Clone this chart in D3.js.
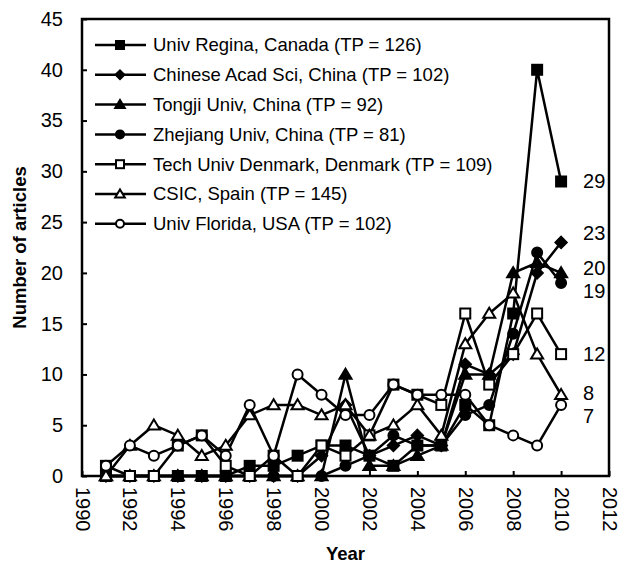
<!DOCTYPE html>
<html><head><meta charset="utf-8">
<script src="https://cdn.jsdelivr.net/npm/d3@7"></script>
<style>
html,body{margin:0;padding:0;background:#fff;}
text{font-family:Arial,"Liberation Sans",sans-serif;fill:#000;}
</style></head>
<body>
<svg id="chart" width="624" height="565"></svg>
<script>
const years = [1991,1992,1993,1994,1995,1996,1997,1998,1999,2000,2001,2002,2003,2004,2005,2006,2007,2008,2009,2010];
const seriesNames = [
  "Univ Regina, Canada (TP = 126)",
  "Chinese Acad Sci, China (TP = 102)",
  "Tongji Univ, China (TP = 92)",
  "Zhejiang Univ, China (TP = 81)",
  "Tech Univ Denmark, Denmark (TP = 109)",
  "CSIC, Spain (TP = 145)",
  "Univ Florida, USA (TP = 102)"
];
const markerTypes = ["squareFilled","diamondFilled","triangleFilled","circleFilled","squareOpen","triangleOpen","circleOpen"];
const regina   = [0,0,0,0,0,0,1,1,2,3,3,2,1,3,3,7,5,16,40,29];
const cas      = [0,0,0,0,0,0,0,0,0,2,7,2,3,4,3,11,10,12,20,23];
const tongji   = [0,0,0,0,0,0,0,0,0,0,10,1,1,2,3,10,10,20,21,20];
const zhejiang = [0,0,0,0,0,0,0,0,0,0,1,2,4,3,3,6,7,14,22,19];
const dtu      = [1,0,0,3,4,1,0,2,0,3,2,4,9,8,7,16,9,12,16,12];
const csic     = [0,3,5,4,2,3,6,7,7,6,7,4,5,7,4,13,16,18,12,8];
const florida  = [1,3,2,3,4,2,7,2,10,8,6,6,9,8,8,8,5,4,3,7];
const seriesValues = [regina, cas, tongji, zhejiang, dtu, csic, florida];
const endLabels = ["29","23","20","19","12","8","7"];
const endLabelShift = [0,-9,-5,8,0,-2,11];
const xTicks = [1990,1992,1994,1996,1998,2000,2002,2004,2006,2008,2010,2012];
const yTicks = [0,5,10,15,20,25,30,35,40,45];

const svg = d3.select("#chart");
const L = 82, R = 609, T = 19, B = 476;
const x = d3.scaleLinear().domain([1990,2012]).range([L,R]);
const y = d3.scaleLinear().domain([0,45]).range([B,T]);
const FS = 18.5, TFS = 20;

function drawMarker(g, type, cx, cy, s) {
  const filled = type.endsWith("Filled");
  const fill = filled ? "#000" : "#fff";
  const sw = 2;
  if (type.startsWith("square")) {
    g.append("rect").attr("x", cx - s/2).attr("y", cy - s/2).attr("width", s).attr("height", s)
      .attr("fill", fill).attr("stroke", "#000").attr("stroke-width", sw);
  } else if (type.startsWith("diamond")) {
    const r = s*0.62;
    g.append("path").attr("d", `M${cx},${cy-r}L${cx+r},${cy}L${cx},${cy+r}L${cx-r},${cy}Z`)
      .attr("fill", fill).attr("stroke", "#000").attr("stroke-width", 1.2);
  } else if (type.startsWith("triangle")) {
    const h = s*0.95, w = s*0.6;
    g.append("path").attr("d", `M${cx},${cy-h*0.6}L${cx+w},${cy+h*0.45}L${cx-w},${cy+h*0.45}Z`)
      .attr("fill", fill).attr("stroke", "#000").attr("stroke-width", sw).attr("stroke-linejoin","miter");
  } else {
    g.append("circle").attr("cx", cx).attr("cy", cy).attr("r", s/2)
      .attr("fill", fill).attr("stroke", "#000").attr("stroke-width", sw);
  }
}

// axes frame
svg.append("rect").attr("x", L).attr("y", T).attr("width", R-L).attr("height", B-T)
  .attr("fill", "none").attr("stroke", "#000").attr("stroke-width", 2.5);

const yAxis = d3.axisLeft(y).tickValues(yTicks).tickSize(-5).tickPadding(19).tickFormat(d3.format("d"));
const gy = svg.append("g").attr("transform", `translate(${L},0)`).call(yAxis);
gy.select(".domain").remove();
gy.selectAll("line").attr("stroke", "#000").attr("stroke-width", 2);
gy.selectAll("text").attr("font-size", TFS).attr("font-family", "Arial, 'Liberation Sans', sans-serif");

const xAxis = d3.axisBottom(x).tickValues(xTicks).tickSize(-5).tickFormat(d3.format("d"));
const gx = svg.append("g").attr("transform", `translate(0,${B})`).call(xAxis);
gx.select(".domain").remove();
gx.selectAll("line").attr("stroke", "#000").attr("stroke-width", 2);
gx.selectAll("text").attr("font-size", TFS).attr("font-family", "Arial, 'Liberation Sans', sans-serif")
  .attr("text-anchor", "start").attr("transform", "rotate(90)")
  .attr("x", 11).attr("y", 0).attr("dy", "0.35em");

// axis titles
svg.append("text").attr("x", (L+R)/2).attr("y", 560).attr("text-anchor", "middle")
  .attr("font-size", FS).attr("font-weight", "bold").text("Year");
svg.append("text").attr("transform", `translate(26,${(T+B)/2}) rotate(-90)`).attr("text-anchor", "middle")
  .attr("font-size", FS).attr("font-weight", "bold").text("Number of articles");

// series
const line = d3.line().x((d,i) => x(years[i])).y(d => y(d));
seriesValues.forEach((vals, si) => {
  svg.append("path").datum(vals).attr("d", line).attr("fill", "none")
    .attr("stroke", "#000").attr("stroke-width", 2.5).attr("stroke-linejoin", "round");
});
seriesValues.forEach((vals, si) => {
  const g = svg.append("g");
  vals.forEach((v, i) => drawMarker(g, markerTypes[si], x(years[i]), y(v), 10));
});

// end labels
seriesValues.forEach((vals, si) => {
  const last = vals[vals.length-1];
  svg.append("text").attr("x", x(2010) + 22).attr("y", y(last) + endLabelShift[si])
    .attr("dy", "0.35em").attr("font-size", TFS).text(endLabels[si]);
});

// legend
const legend = svg.append("g");
seriesNames.forEach((name, i) => {
  const ly = 45 + i*29.8;
  legend.append("line").attr("x1", 95).attr("x2", 146).attr("y1", ly).attr("y2", ly)
    .attr("stroke", "#000").attr("stroke-width", 2.5);
  drawMarker(legend, markerTypes[i], 120, ly, 8);
  legend.append("text").attr("x", 153).attr("y", ly).attr("dy", "0.35em")
    .attr("font-size", FS).text(name);
});
</script>
</body></html>
